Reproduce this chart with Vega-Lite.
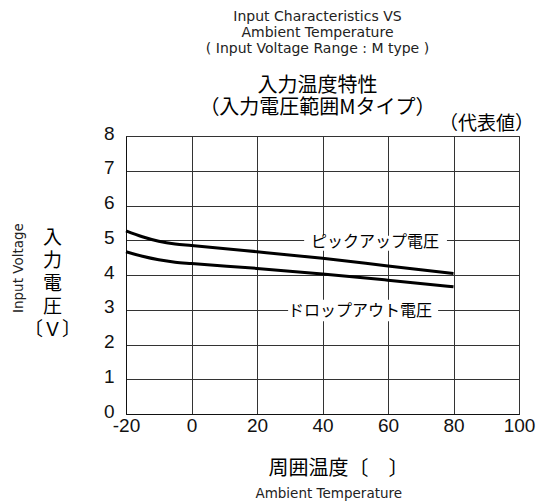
{
  "$schema": "https://vega.github.io/schema/vega-lite/v6.json",
  "width": 393,
  "height": 278,
  "autosize": "none",
  "padding": {"left": 126, "top": 136, "right": 27, "bottom": 90},
  "background": "white",
  "config": {
    "view": {"stroke": "#555", "strokeWidth": 1},
    "axis": {
      "labelFont": "Liberation Sans",
      "labelFontSize": 19,
      "labelColor": "#111",
      "labelFlush": false,
      "labelOverlap": false,
      "grid": true,
      "gridColor": "#333",
      "gridWidth": 1,
      "gridOpacity": 1,
      "ticks": false,
      "domainColor": "#111",
      "domainWidth": 1
    }
  },
  "title": {
    "text": ["Input Characteristics VS", "Ambient Temperature", "( Input Voltage Range : M type )"],
    "subtitle": ["入力温度特性", "（入力電圧範囲Mタイプ）"],
    "anchor": "middle",
    "dx": -5,
    "font": "DejaVu Sans",
    "fontSize": 14,
    "fontWeight": "normal",
    "color": "#222",
    "lineHeight": 16,
    "subtitleFont": "Noto Sans CJK JP",
    "subtitleFontSize": 20,
    "subtitleColor": "#000",
    "subtitleLineHeight": 22,
    "subtitlePadding": 20,
    "offset": -3
  },
  "datasets": {
    "curves": [
      {"temp": -20, "voltage": 5.27, "series": "pickup"},
      {"temp": -15, "voltage": 5.10, "series": "pickup"},
      {"temp": -10, "voltage": 4.97, "series": "pickup"},
      {"temp": -5, "voltage": 4.89, "series": "pickup"},
      {"temp": 0, "voltage": 4.85, "series": "pickup"},
      {"temp": 20, "voltage": 4.67, "series": "pickup"},
      {"temp": 40, "voltage": 4.48, "series": "pickup"},
      {"temp": 60, "voltage": 4.26, "series": "pickup"},
      {"temp": 80, "voltage": 4.04, "series": "pickup"},
      {"temp": -20, "voltage": 4.67, "series": "dropout"},
      {"temp": -15, "voltage": 4.54, "series": "dropout"},
      {"temp": -10, "voltage": 4.44, "series": "dropout"},
      {"temp": -5, "voltage": 4.37, "series": "dropout"},
      {"temp": 0, "voltage": 4.33, "series": "dropout"},
      {"temp": 20, "voltage": 4.19, "series": "dropout"},
      {"temp": 40, "voltage": 4.03, "series": "dropout"},
      {"temp": 60, "voltage": 3.85, "series": "dropout"},
      {"temp": 80, "voltage": 3.66, "series": "dropout"}
    ],
    "boxes": [
      {"x1": 34.4, "x2": 78.0, "y1": 4.7, "y2": 5.13},
      {"x1": 29.5, "x2": 75.3, "y1": 2.67, "y2": 3.29}
    ],
    "labels": [
      {"temp": 56.0, "voltage": 4.95, "label": "ピックアップ電圧"},
      {"temp": 51.45, "voltage": 2.96, "label": "ドロップアウト電圧"}
    ],
    "notes": [
      {"temp": 90.1, "voltage": 8.35, "label": "（代表値）"}
    ],
    "english": [
      {"temp": 41.9, "voltage": -2.3, "label": "Ambient Temperature", "angle": 0},
      {"temp": -52.7, "voltage": 4.2, "label": "Input Voltage", "angle": 270}
    ]
  },
  "encoding": {
    "x": {
      "field": "temp",
      "type": "quantitative",
      "scale": {"domain": [-20, 100], "nice": false},
      "axis": {
        "values": [-20, 0, 20, 40, 60, 80, 100],
        "labelExpr": "'' + datum.value",
        "labelPadding": 2,
        "title": "周囲温度〔　〕",
        "titleFont": "Noto Sans CJK JP",
        "titleFontSize": 20,
        "titleFontWeight": "normal",
        "titleColor": "#000",
        "titlePadding": 23,
        "titleX": 212,
        "titleAnchor": null
      }
    },
    "y": {
      "field": "voltage",
      "type": "quantitative",
      "scale": {"domain": [0, 8], "nice": false},
      "axis": {
        "values": [0, 1, 2, 3, 4, 5, 6, 7, 8],
        "labelPadding": 12,
        "labelOffset": -3,
        "title": ["入", "力", "電", "圧", "〔Ｖ〕"],
        "titleFont": "Noto Sans CJK JP",
        "titleFontSize": 19,
        "titleFontWeight": "normal",
        "titleColor": "#000",
        "titleAngle": 0,
        "titleLineHeight": 23,
        "titleAlign": "center",
        "titleBaseline": "middle",
        "titleX": -74,
        "titleY": 101
      }
    }
  },
  "layer": [
    {
      "data": {"name": "boxes"},
      "mark": {"type": "rect", "fill": "white", "stroke": null},
      "encoding": {
        "x": {"field": "x1", "type": "quantitative"},
        "x2": {"field": "x2"},
        "y": {"field": "y1", "type": "quantitative"},
        "y2": {"field": "y2"}
      }
    },
    {
      "data": {"name": "curves"},
      "mark": {"type": "line", "color": "black", "strokeWidth": 3, "interpolate": "monotone"},
      "encoding": {
        "detail": {"field": "series", "type": "nominal"}
      }
    },
    {
      "data": {"name": "labels"},
      "mark": {"type": "text", "font": "Noto Sans CJK JP", "fontSize": 16, "color": "black", "align": "center", "baseline": "middle"},
      "encoding": {"text": {"field": "label"}}
    },
    {
      "data": {"name": "notes"},
      "mark": {"type": "text", "font": "Noto Sans CJK JP", "fontSize": 19, "color": "black", "align": "center", "baseline": "middle"},
      "encoding": {"text": {"field": "label"}}
    },
    {
      "data": {"name": "english"},
      "mark": {"type": "text", "font": "DejaVu Sans", "fontSize": 13.5, "color": "#222", "align": "center", "baseline": "middle"},
      "encoding": {
        "text": {"field": "label"},
        "angle": {"field": "angle", "type": "quantitative", "scale": null}
      }
    }
  ]
}
